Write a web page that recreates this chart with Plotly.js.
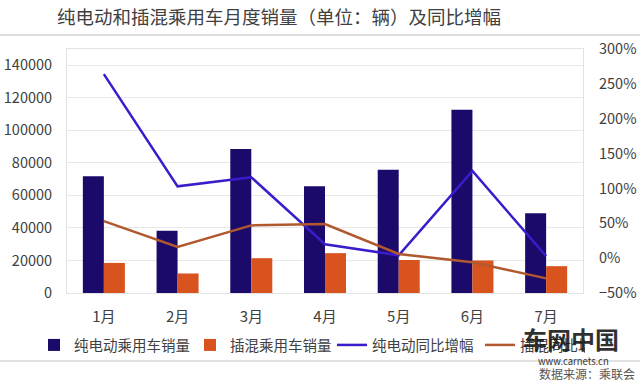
<!DOCTYPE html>
<html>
<head>
<meta charset="utf-8">
<script src="https://cdn.plot.ly/plotly-3.0.1.min.js"></script>
<style>html,body{margin:0;padding:0;background:#fff;}#chart{width:640px;height:383px;}</style>
</head>
<body>
<div id="chart"></div>
<script>
const months = ['1月','2月','3月','4月','5月','6月','7月'];
const bevSales = [71700, 38200, 88600, 65700, 75700, 112600, 49100];
const phevSales = [18500, 12000, 21400, 24500, 20300, 20000, 16500];
const bevYoY = [264, 103, 116, 20, 4, 125, 3];
const phevYoY = [53, 16, 47, 49, 6, -6, -29];
const seriesNames = ['纯电动乘用车销量','插混乘用车销量','纯电动同比增幅','插混同比增幅'];

const font = "'Noto Sans CJK SC', 'Noto Sans', sans-serif";
const traces = [
  {type:'bar', name:seriesNames[0], x:months, y:bevSales, marker:{color:'#1c0a6b'}, legendwidth:111},
  {type:'bar', name:seriesNames[1], x:months, y:phevSales, marker:{color:'#d9531e'}, legendwidth:97},
  {type:'scatter', mode:'lines', name:seriesNames[2], x:months, y:bevYoY, yaxis:'y2', line:{color:'#3a1ccc', width:2.5}, legendwidth:103},
  {type:'scatter', mode:'lines', name:seriesNames[3], x:months, y:phevYoY, yaxis:'y2', line:{color:'#b0582e', width:2.5}, legendwidth:60}
];

const layout = {
  width:640, height:383,
  margin:{l:67, r:57, t:49, b:90, autoexpand:false},
  paper_bgcolor:'#fff', plot_bgcolor:'#fff',
  font:{family:font, color:'#404040', size:14.5},
  title:{text:'纯电动和插混乘用车月度销量（单位：辆）及同比增幅', x:263/640, xref:'paper', xanchor:'center', y:0.955, yanchor:'middle', font:{size:18.5, color:'#404040', family:font}},
  barmode:'group', bargap:0.43, bargroupgap:0,
  showlegend:true,
  legend:{orientation:'h', x:(34-67)/516, xanchor:'left', y:-(345-293)/244, yanchor:'middle', traceorder:'normal', bgcolor:'rgba(0,0,0,0)', font:{size:14.5, color:'#404040'}, itemwidth:30, tracegroupgap:0},
  xaxis:{type:'category', showgrid:false, ticks:'', tickfont:{size:15, color:'#404040'}, showline:true, linecolor:'#e3e3e3', mirror:true, linewidth:1, ticklabelstandoff:10},
  yaxis:{range:[0,150000], tickvals:[0,20000,40000,60000,80000,100000,120000,140000], ticktext:['0','20000','40000','60000','80000','100000','120000','140000'], gridcolor:'#e8e8e8', showline:true, linecolor:'#e3e3e3', mirror:true, zeroline:true, zerolinecolor:'#e3e3e3', tickfont:{size:14.5, color:'#404040'}, ticks:'', ticklabelstandoff:11},
  yaxis2:{overlaying:'y', side:'right', range:[-50,300], dtick:50, ticksuffix:'%', showgrid:false, zeroline:false, tickfont:{size:14.5, color:'#404040'}, ticks:'', ticklabelstandoff:15},
  shapes:[
    {type:'line', xref:'paper', yref:'paper', x0:-0.13, x1:1.11, y0:1.0 + 14/244, y1:1.0 + 14/244, line:{color:'#d0d0d0', width:1.5}},
    {type:'line', xref:'paper', yref:'paper', x0:-0.13, x1:1.11, y0:-68/244, y1:-68/244, line:{color:'#d6d6d6', width:1.5}}
  ],
  annotations:[
    {text:'车网中国', xref:'paper', yref:'paper', x:(571-67)/516, y:-(339-293)/244, xanchor:'center', yanchor:'middle', showarrow:false, borderpad:0, opacity:0.9, font:{size:24, color:'#1a1a1a', family:font, weight:'bold'}},
    {text:'www.carnets.cn', xref:'paper', yref:'paper', x:(573-67)/516, y:-(361-293)/244, xanchor:'center', yanchor:'middle', showarrow:false, borderpad:0, font:{size:9.5, color:'#333', family:font}},
    {text:'数据来源：乘联会', xref:'paper', yref:'paper', x:(636-67)/516, y:-(373.5-293)/244, xanchor:'right', yanchor:'middle', showarrow:false, borderpad:0, font:{size:12, color:'#555', family:font}}
  ]
};
Plotly.newPlot('chart', traces, layout, {displayModeBar:false, staticPlot:true});
</script>
</body>
</html>
